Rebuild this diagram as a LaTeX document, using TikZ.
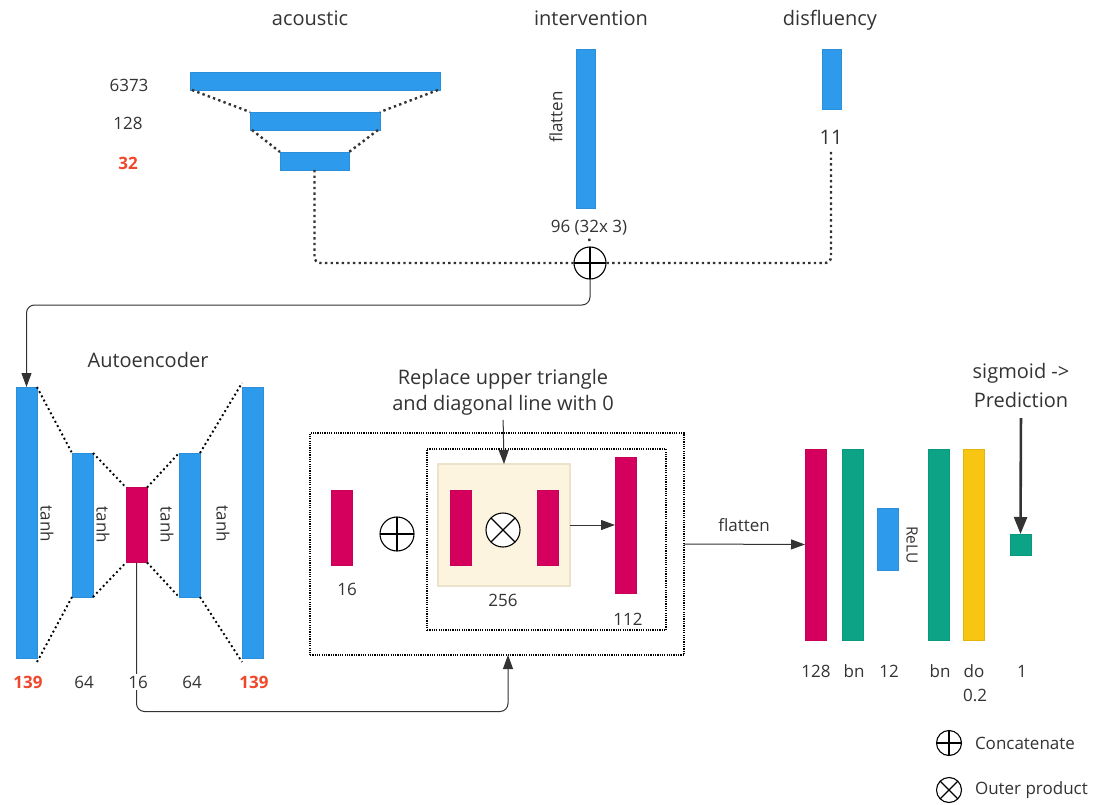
\documentclass[tikz,border=0pt]{standalone}
\usepackage{fontspec}
\setmainfont{Open Sans}
\usetikzlibrary{arrows.meta,calc}

\definecolor{ink}{HTML}{333333}
\definecolor{cblue}{HTML}{2E9AEB}
\definecolor{cblueE}{HTML}{2A8EDA}
\definecolor{cmag}{HTML}{D5005E}
\definecolor{cmagE}{HTML}{C80058}
\definecolor{cgrn}{HTML}{0CA386}
\definecolor{cgrnE}{HTML}{0A987C}
\definecolor{cylw}{HTML}{F7C512}
\definecolor{cylwE}{HTML}{E6B30C}
\definecolor{cred}{HTML}{F0472B}
\definecolor{beige}{HTML}{FDF4DF}
\definecolor{beigeE}{HTML}{ECE2CA}

\begin{document}
\begin{tikzpicture}[x=1pt,y=-1pt,
  every node/.style={text=ink, inner sep=0pt, outer sep=0pt},
  bar/.style={rectangle, minimum width=21pt, line width=0.6pt},
  bluebar/.style={bar, fill=cblue, draw=cblueE},
  magbar/.style={bar, fill=cmag, draw=cmagE},
  grnbar/.style={bar, fill=cgrn, draw=cgrnE},
  ylwbar/.style={bar, fill=cylw, draw=cylwE},
  title/.style={font=\fontsize{20}{24}\selectfont, anchor=base},
  lab/.style={font=\fontsize{17}{20}\selectfont, anchor=base},
  redlab/.style={font=\fontsize{17}{20}\selectfont\bfseries, text=cred, anchor=base},
  sidelab/.style={font=\fontsize{17}{20}\selectfont},
  dots/.style={draw=ink, line width=2.4pt, line cap=butt, dash pattern=on 2.4pt off 3.2pt},
  fdots/.style={draw=black, line width=1.9pt, line cap=butt, dash pattern=on 1.9pt off 2.9pt},
  boxdots/.style={draw=black, line width=1.2pt, dash pattern=on 1.2pt off 1.1pt},
  conn/.style={draw=ink, line width=1pt, rounded corners=8pt, -{Triangle[length=14pt,width=10pt]}},
  opcirc/.style={circle, draw=black, line width=1.1pt, fill=white},
  plus/.style={opcirc, path picture={
      \draw[line width=1.1pt] (path picture bounding box.north) -- (path picture bounding box.south)
                              (path picture bounding box.west) -- (path picture bounding box.east);}},
  times/.style={opcirc, path picture={
      \draw[line width=1.1pt]
        ($(path picture bounding box.center)+(45:20pt)$) -- ($(path picture bounding box.center)+(225:20pt)$)
        ($(path picture bounding box.center)+(135:20pt)$) -- ($(path picture bounding box.center)+(-45:20pt)$);}}
]
\path[use as bounding box] (0,0) rectangle (1105,805);

% ---------- input branches ----------
\node[title] (tac) at (310,26) {acoustic};
\node[title] (tiv) at (591,26) {intervention};
\node[title] (tdis) at (830,26) {disfluency};

\node[bluebar, minimum width=250pt, minimum height=18pt] (ac1) at (315,81) {};
\node[bluebar, minimum width=130pt, minimum height=18pt] (ac2) at (315,121) {};
\node[bluebar, minimum width=69pt, minimum height=18pt] (ac3) at (314.5,161) {};
\node[lab] (l6373) at (129,92) {6373};
\node[lab] (l128a) at (128,130) {128};
\node[redlab] (l32) at (128,170) {32};

\draw[dots] ([xshift=2pt]ac1.south west) -- (ac2.north west);
\draw[dots] ([xshift=-2pt]ac1.south east) -- (ac2.north east);
\draw[dots] ([xshift=2pt]ac2.south west) -- (ac3.north west);
\draw[dots] ([xshift=-2pt]ac2.south east) -- (ac3.north east);

\node[bluebar, minimum width=19pt, minimum height=159pt] (iv) at (585.5,128.5) {};
\node[sidelab, rotate=90] (ivflat) at (556,117) {flatten};
\node[lab] (l96) at (589,233) {96 (32x 3)};

\node[bluebar, minimum width=19pt, minimum height=60pt] (dis) at (831.5,79) {};
\node[font=\fontsize{20}{24}\selectfont, anchor=base] (l11) at (831,145) {11};

% concatenation of the three branches
\node[plus, minimum size=32pt] (cc) at (590,263) {};
\draw[dots, rounded corners=6pt] (ac3.south) |- (cc.west);
\draw[dots, rounded corners=6pt, shorten <=7pt] (l11.south) |- (cc.east);
\draw[dots, shorten <=3pt, shorten >=4pt] (l96.south) -- (cc.north);

% ---------- autoencoder ----------
\node[title] (tae) at (148,367) {Autoencoder};
\node[bluebar, minimum height=271pt] (ae1) at (26.5,522.5) {};
\node[bluebar, minimum height=144pt] (ae2) at (82.5,525) {};
\node[magbar, minimum height=75pt] (ae3) at (136.5,525) {};
\node[bluebar, minimum height=144pt] (ae4) at (189.5,525) {};
\node[bluebar, minimum height=271pt] (ae5) at (252.5,522.5) {};

\draw[conn] (cc.south) -- ++(0,26) -| (ae1.north);

\draw[fdots] (ae1.north east) -- (ae2.north west);
\draw[fdots] ([yshift=-4pt]ae1.south east) -- (ae2.south west);
\draw[fdots] (ae2.north east) -- (ae3.north west);
\draw[fdots] (ae2.south east) -- (ae3.south west);
\draw[fdots] (ae3.north east) -- (ae4.north west);
\draw[fdots] (ae3.south east) -- (ae4.south west);
\draw[fdots] (ae4.north east) -- ([yshift=4pt]ae5.north west);
\draw[fdots] (ae4.south east) -- ([yshift=-4pt]ae5.south west);

\node[sidelab, rotate=-90] (th1) at (47,524) {tanh};
\node[sidelab, rotate=-90] (th2) at (103,525) {tanh};
\node[sidelab, rotate=-90] (th3) at (167,525) {tanh};
\node[sidelab, rotate=-90] (th4) at (223,524) {tanh};

% ---------- interaction block ----------
\node[boxdots, rectangle, minimum width=374pt, minimum height=222pt] (outer) at (497,544) {};
\node[boxdots, rectangle, minimum width=239pt, minimum height=181pt] (inner) at (546.5,539.5) {};
\node[rectangle, fill=beige, draw=beigeE, line width=1.2pt, minimum width=132pt, minimum height=122pt] (beige) at (504,525) {};

\draw[conn, rounded corners=8pt] (ae3.south) -- ++(0,149) -| ([xshift=11pt]outer.south);

\node[lab, fill=white, inner sep=2pt] (l16ae) at (138,688) {16};
\node[redlab] (l139a) at (28,688) {139};
\node[lab] (l64a) at (84,688) {64};
\node[lab] (l64b) at (192,688) {64};
\node[redlab] (l139b) at (254,688) {139};

\node[magbar, minimum height=75pt] (m16) at (341.5,528) {};
\node[lab] (l16m) at (347,595) {16};
\node[plus, minimum size=34pt] (c1) at (397,534) {};
\node[magbar, minimum height=75pt] (b1) at (460.5,527.5) {};
\node[magbar, minimum height=75pt] (b2) at (547.5,527.5) {};
\node[times, minimum size=34pt] (c2) at (503,530) {};
\node[lab] (l256) at (503,606) {256};
\node[magbar, minimum height=136pt] (m112) at (625.5,525) {};
\node[lab] (l112) at (628,625) {112};

\draw[conn] (beige.east) -- (m112.west);

\node[title] (note1) at (503,384) {Replace upper triangle};
\node[title] (note2) at (503,410) {and diagonal line with 0};
\draw[conn, shorten <=5pt] (note2.south) -- (beige.north);

% ---------- classifier head ----------
\node[magbar, minimum height=191pt] (r1) at (815.5,544.5) {};
\node[grnbar, minimum height=191pt] (r2) at (852.5,544.5) {};
\node[bluebar, minimum height=62pt] (r3) at (887.5,539) {};
\node[grnbar, minimum height=191pt] (r4) at (938.5,544.5) {};
\node[ylwbar, minimum height=191pt] (r5) at (973.5,544.5) {};
\node[grnbar, minimum height=21pt] (r6) at (1020.5,544.5) {};
\node[font=\fontsize{15.5}{18}\selectfont, rotate=-90] (relu) at (912,545) {ReLU};

\draw[conn] (outer.east) -- (r1.west);
\node[lab] (lflat) at (744,531) {flatten};

\node[lab] (l128b) at (816,677) {128};
\node[lab] (lbn1) at (854,677) {bn};
\node[lab] (l12) at (889,677) {12};
\node[lab] (lbn2) at (940,677) {bn};
\node[lab] (ldo) at (974,677) {do};
\node[lab] (l02) at (975,701) {0.2};
\node[lab] (l1) at (1022,677) {1};

\node[title] (sig) at (1021,378) {sigmoid ->};
\node[title] (pred) at (1021,407) {Prediction};
\draw[draw=ink, line width=2.6pt, shorten <=11pt, -{Triangle[length=17pt,width=13pt]}] (pred.south) -- (r6.north);

% ---------- legend ----------
\node[plus, minimum size=25pt] (lgc) at (949,743) {};
\node[lab, anchor=west] (lgct) at (975,743) {Concatenate};
\node[times, minimum size=25pt] (lgo) at (949,790) {};
\node[lab, anchor=west] (lgot) at (975,790) {Outer product};
\end{tikzpicture}
\end{document}
